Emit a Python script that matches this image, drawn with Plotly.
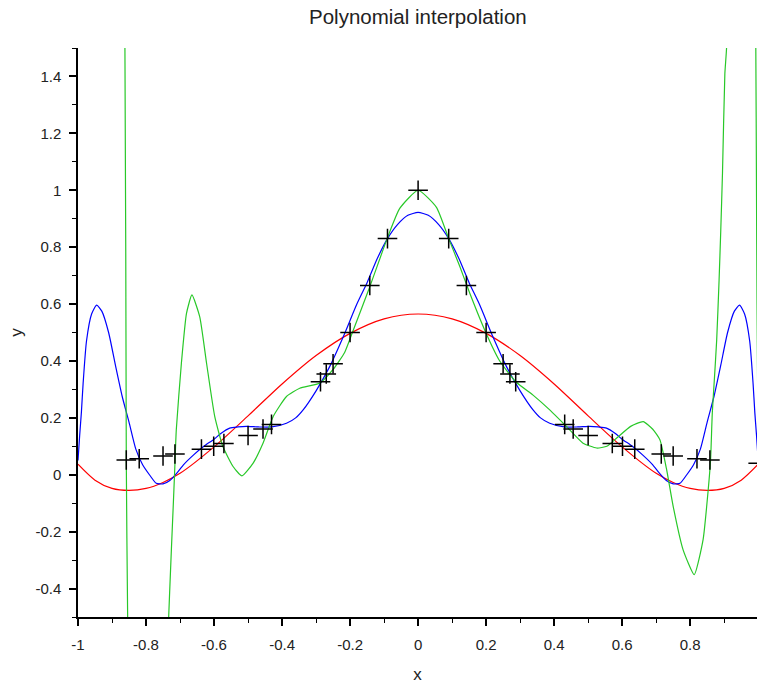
import plotly.graph_objects as go

# ---- data ----
title_text = "Polynomial interpolation"
x_label = "x"
y_label = "y"

x_tick_vals = [-1, -0.8, -0.6, -0.4, -0.2, 0, 0.2, 0.4, 0.6, 0.8]
x_tick_text = ["-1", "-0.8", "-0.6", "-0.4", "-0.2", "0", "0.2", "0.4", "0.6", "0.8"]
y_tick_vals = [-0.4, -0.2, 0, 0.2, 0.4, 0.6, 0.8, 1, 1.2, 1.4]
y_tick_text = ["-0.4", "-0.2", "0", "0.2", "0.4", "0.6", "0.8", "1", "1.2", "1.4"]

# sample points (black crosses)
pts_x = [-0.858, -0.82, -0.75, -0.715, -0.637, -0.601, -0.571, -0.5, -0.456, -0.431,
         -0.287, -0.27, -0.25, -0.2, -0.142, -0.09, 0.0, 0.09, 0.142, 0.2, 0.25, 0.27,
         0.287, 0.431, 0.456, 0.5, 0.571, 0.601, 0.637, 0.715, 0.75, 0.82, 0.858, 1.0]
pts_y = [0.052, 0.056, 0.066, 0.073, 0.09, 0.1, 0.11, 0.138, 0.161, 0.177,
         0.327, 0.354, 0.39, 0.5, 0.665, 0.83, 1.0, 0.83, 0.665, 0.5, 0.39, 0.354,
         0.327, 0.177, 0.161, 0.138, 0.11, 0.1, 0.09, 0.073, 0.066, 0.056, 0.052, 0.04]

# red curve
red_x = [-1.0, -0.95, -0.9, -0.85, -0.8, -0.75, -0.7, -0.6, -0.5, -0.4, -0.3, -0.2, -0.1, 0.0,
         0.1, 0.2, 0.3, 0.4, 0.5, 0.6, 0.7, 0.75, 0.8, 0.85, 0.9, 0.95, 1.0]
red_y = [0.037, -0.019, -0.048, -0.055, -0.048, -0.027, 0.005, 0.098, 0.207, 0.319, 0.419,
         0.497, 0.548, 0.565, 0.548, 0.497, 0.419, 0.319, 0.207, 0.098, 0.005, -0.027,
         -0.048, -0.055, -0.048, -0.019, 0.037]

# blue curve
blue_x = [-1.0, -0.995, -0.99, -0.985, -0.975, -0.96, -0.945, -0.93, -0.91, -0.89, -0.87,
          -0.85, -0.83, -0.81, -0.79, -0.77, -0.75, -0.73, -0.71, -0.69, -0.66, -0.63, -0.6,
          -0.58, -0.554, -0.53, -0.505, -0.47, -0.43, -0.387, -0.36, -0.338, -0.3, -0.26,
          -0.22, -0.18, -0.15, -0.12, -0.09, -0.06, -0.03, 0.0,
          0.03, 0.06, 0.09, 0.12, 0.15, 0.18, 0.22, 0.26, 0.3, 0.338, 0.36, 0.387, 0.43,
          0.47, 0.505, 0.53, 0.554, 0.58, 0.6, 0.63, 0.66, 0.69, 0.71, 0.73, 0.75, 0.77,
          0.79, 0.81, 0.83, 0.85, 0.87, 0.89, 0.91, 0.93, 0.945, 0.96, 0.975, 0.985, 0.99,
          0.995, 1.0]
blue_y = [0.05, 0.14, 0.22, 0.32, 0.47, 0.565, 0.596, 0.575, 0.5, 0.385, 0.275,
          0.185, 0.09, 0.035, 0.0, -0.03, -0.032, -0.02, 0.005, 0.035, 0.07, 0.1, 0.125,
          0.145, 0.164, 0.168, 0.17, 0.168, 0.168, 0.181, 0.2, 0.228, 0.295, 0.38,
          0.485, 0.6, 0.675, 0.76, 0.83, 0.88, 0.912, 0.922,
          0.912, 0.88, 0.83, 0.76, 0.675, 0.6, 0.485, 0.38, 0.295, 0.228, 0.2, 0.181, 0.168,
          0.168, 0.17, 0.168, 0.164, 0.145, 0.125, 0.1, 0.07, 0.035, 0.005, -0.02, -0.032,
          -0.03, 0.0, 0.035, 0.09, 0.185, 0.275, 0.385, 0.5, 0.575, 0.596, 0.565, 0.47,
          0.32, 0.22, 0.14, 0.05]

# green curve
green_x = [-1.0, -0.9, -0.875, -0.862, -0.858, -0.854, -0.84, -0.8, -0.76, -0.735, -0.725,
           -0.72, -0.716, -0.711, -0.696, -0.681, -0.665, -0.642, -0.622, -0.598, -0.574,
           -0.544, -0.518, -0.485, -0.456, -0.426, -0.387, -0.348, -0.289, -0.25, -0.216,
           -0.196, -0.142, -0.091, -0.054, 0.0, 0.054, 0.09, 0.123, 0.152, 0.198, 0.24,
           0.289, 0.338, 0.387, 0.436, 0.485, 0.525, 0.555, 0.584, 0.625, 0.662, 0.69,
           0.711, 0.73, 0.75, 0.779, 0.812, 0.838, 0.853, 0.86, 0.865, 0.871, 0.878, 0.885,
           0.89, 0.895, 0.902, 0.907, 0.92, 0.95, 0.985, 0.993, 0.995, 0.9965, 1.0]
green_y = [6.0, 3.5, 2.2, 1.5, 0.05, -0.5, -1.5, -3.0, -1.5, -0.55, -0.25,
           -0.11, 0.006, 0.158, 0.392, 0.567, 0.632, 0.555, 0.392, 0.205, 0.099,
           0.029, -0.004, 0.041, 0.111, 0.205, 0.275, 0.304, 0.322, 0.37, 0.43,
           0.491, 0.661, 0.83, 0.936, 1.0, 0.94, 0.83, 0.731, 0.638, 0.503, 0.4,
           0.325, 0.28, 0.228, 0.17, 0.111, 0.094, 0.1, 0.129, 0.17, 0.187, 0.16,
           0.123, 0.023, -0.111, -0.263, -0.351, -0.228, -0.053, 0.053, 0.216, 0.333, 0.474, 0.684,
           0.86, 1.06, 1.41, 1.5, 2.5, 4.0, 2.5, 1.5, 1.0, 0.62, 0.04]

# ---- figure ----
fig = go.Figure()
fig.add_trace(go.Scatter(x=red_x, y=red_y, mode="lines",
                         line=dict(color="rgb(255,0,0)", width=1.2, shape="spline", smoothing=0.8)))
fig.add_trace(go.Scatter(x=blue_x, y=blue_y, mode="lines",
                         line=dict(color="rgb(0,0,255)", width=1.2, shape="spline", smoothing=0.6)))
fig.add_trace(go.Scatter(x=green_x, y=green_y, mode="lines",
                         line=dict(color="rgb(40,200,40)", width=1.2, shape="spline", smoothing=0.5)))
fig.add_trace(go.Scatter(x=pts_x, y=pts_y, mode="markers",
                         marker=dict(symbol="cross-thin", size=14, color="black",
                                     line=dict(color="black", width=1.5))))

axis_font = dict(family="Liberation Sans, Arial, sans-serif", size=15, color="#222222")

fig.update_layout(
    width=757, height=685,
    margin=dict(l=78, r=0, t=48, b=68, pad=0),
    paper_bgcolor="white", plot_bgcolor="white",
    showlegend=False,
    title=dict(text=title_text, x=0.552, xanchor="center", y=0.975, yanchor="middle",
               font=dict(family="Liberation Sans, Arial, sans-serif", size=20.5, color="#222222")),
)
fig.update_xaxes(
    range=[-1, 0.9965], showgrid=False, zeroline=False,
    showline=True, linecolor="black", linewidth=1.5,
    ticks="outside", ticklen=7, tickwidth=1.5, tickcolor="black",
    tickvals=x_tick_vals, ticktext=x_tick_text, tickfont=axis_font,
    ticklabelstandoff=6,
    minor=dict(ticks="outside", ticklen=4, tickwidth=1.2, tickcolor="black",
               dtick=0.1, tick0=0, showgrid=False),
    title=dict(text=x_label, font=dict(family="Liberation Sans, Arial, sans-serif", size=17,
                                       color="#222222"), standoff=16),
    automargin=False,
)
fig.update_yaxes(
    range=[-0.5, 1.5], showgrid=False, zeroline=False,
    showline=True, linecolor="black", linewidth=1.5,
    ticks="outside", ticklen=7, tickwidth=1.5, tickcolor="black",
    tickvals=y_tick_vals, ticktext=y_tick_text, tickfont=axis_font,
    ticklabelstandoff=5,
    minor=dict(ticks="outside", ticklen=4, tickwidth=1.2, tickcolor="black",
               dtick=0.1, tick0=0, showgrid=False),
    title=dict(text=y_label, font=dict(family="Liberation Sans, Arial, sans-serif", size=17,
                                       color="#222222"), standoff=8),
    automargin=False,
)

fig.write_html(
    "out.html",
    config={"displayModeBar": False},
    post_script="document.body.style.margin='0';document.body.style.padding='0';"
                "document.documentElement.style.overflow='hidden';",
)
